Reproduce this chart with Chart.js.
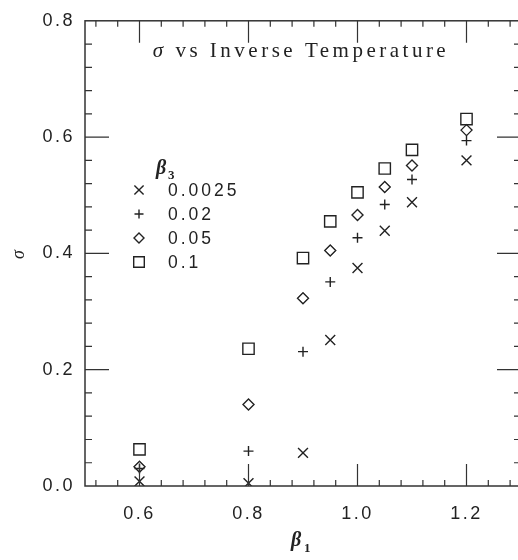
<!DOCTYPE html>
<html lang="en">
<head>
    <meta charset="UTF-8">
    <title>sigma vs inverse temperature</title>
    <script src="https://cdn.jsdelivr.net/npm/chart.js@4.4.1/dist/chart.umd.min.js"></script>
    <style>
        html, body { margin: 0; padding: 0; background: #fff; overflow: hidden; }
        #wrap { width: 518px; height: 560px; overflow: hidden; }
    </style>
</head>
<body>
    <div id="wrap">
        <canvas id="chart" width="540" height="560"></canvas>
    </div>
    <script>
        // beta_1 values where sigma was measured
        const betaValues = [0.6, 0.8, 0.9, 0.95, 1.0, 1.05, 1.1, 1.2];
        // sigma for each beta_3
        const sigma0025 = [0.008, 0.005, 0.057, 0.251, 0.375, 0.439, 0.488, 0.560];
        const sigma02   = [0.030, 0.060, 0.231, 0.351, 0.427, 0.484, 0.527, 0.594];
        const sigma05   = [0.033, 0.140, 0.323, 0.405, 0.466, 0.514, 0.551, 0.612];
        const sigma1    = [0.063, 0.236, 0.392, 0.455, 0.505, 0.546, 0.578, 0.631];

        const seriesLabels = ['0.0025', '0.02', '0.05', '0.1'];
        const xTickValues = [0.6, 0.8, 1.0, 1.2];
        const yTickValues = [0.0, 0.2, 0.4, 0.6, 0.8];

        const ink = '#222';
        const markers = [
            { style: 'crossRot', radius: 7 },
            { style: 'cross', radius: 5 },
            { style: 'rectRot', radius: 5.5 },
            { style: 'rect', radius: 8 }
        ];
        const allSeries = [sigma0025, sigma02, sigma05, sigma1];

        const datasets = allSeries.map((vals, i) => ({
            label: seriesLabels[i],
            data: vals.map((v, j) => ({ x: betaValues[j], y: v })),
            pointStyle: markers[i].style,
            pointRadius: markers[i].radius,
            pointBorderWidth: 1.4,
            pointBorderColor: ink,
            pointBackgroundColor: 'rgba(0,0,0,0)',
            showLine: false
        }));

        // frame, inside ticks, title, legend and x title
        const decorPlugin = {
            id: 'decor',
            beforeDraw(chart) {
                chart.ctx.letterSpacing = '2.5px';
            },
            afterDraw(chart) {
                const ctx = chart.ctx;
                const area = chart.chartArea;
                const xs = chart.scales.x, ys = chart.scales.y;
                ctx.save();
                ctx.strokeStyle = '#333';
                ctx.lineWidth = 1.5;
                ctx.strokeRect(area.left, area.top, area.right - area.left, area.bottom - area.top);

                ctx.lineWidth = 1.2;
                ctx.beginPath();
                // x ticks (bottom and top)
                for (let k = 0; k <= 19; k++) {
                    const v = 0.52 + 0.04 * k;
                    const px = xs.getPixelForValue(v);
                    const major = xTickValues.some(t => Math.abs(t - v) < 1e-6);
                    const len = major ? 22 : 6;
                    ctx.moveTo(px, area.bottom); ctx.lineTo(px, area.bottom - len);
                    ctx.moveTo(px, area.top); ctx.lineTo(px, area.top + len);
                }
                // y ticks (left and right)
                for (let k = 1; k < 20; k++) {
                    const v = 0.04 * k;
                    const py = ys.getPixelForValue(v);
                    const len = (k % 5 === 0) ? 24 : 7;
                    ctx.moveTo(area.left, py); ctx.lineTo(area.left + len, py);
                    ctx.moveTo(area.right, py); ctx.lineTo(area.right - len, py);
                }
                ctx.stroke();

                ctx.fillStyle = ink;
                ctx.textBaseline = 'alphabetic';

                // title
                ctx.letterSpacing = '3.5px';
                ctx.font = 'italic 21px "Liberation Serif"';
                const sig = 'σ';
                const wSig = ctx.measureText(sig).width;
                ctx.font = '21px "Liberation Serif"';
                const rest = ' vs Inverse Temperature';
                const wRest = ctx.measureText(rest).width;
                let tx = 301 - (wSig + wRest) / 2;
                ctx.textAlign = 'left';
                ctx.font = 'italic 21px "Liberation Serif"';
                ctx.fillText(sig, tx, 57);
                ctx.font = '21px "Liberation Serif"';
                ctx.fillText(rest, tx + wSig, 57);

                // legend title beta_3
                ctx.letterSpacing = '0px';
                ctx.font = 'italic bold 20px "Liberation Serif"';
                ctx.fillText('β', 156, 174);
                ctx.font = 'bold 13px "Liberation Serif"';
                ctx.fillText('3', 168, 179);

                // legend rows
                ctx.letterSpacing = '3px';
                ctx.font = '17.5px "Liberation Sans"';
                ctx.textBaseline = 'middle';
                markers.forEach((m, i) => {
                    const y = 190 + i * 24;
                    ctx.strokeStyle = ink;
                    ctx.fillStyle = 'rgba(0,0,0,0)';
                    ctx.lineWidth = 1.4;
                    Chart.helpers.drawPoint(ctx, { pointStyle: m.style, rotation: 0, radius: m.radius - 0.5, borderWidth: 1.4 }, 139, y);
                    ctx.fillStyle = ink;
                    ctx.fillText(seriesLabels[i], 168, y + 1);
                });

                // x title beta_1
                ctx.letterSpacing = '0px';
                ctx.textBaseline = 'alphabetic';
                ctx.font = 'italic bold 20px "Liberation Serif"';
                ctx.fillText('β', 291, 546);
                ctx.font = 'bold 13px "Liberation Serif"';
                ctx.fillText('1', 304, 552);
                ctx.restore();
            }
        };

        new Chart(document.getElementById('chart').getContext('2d'), {
            type: 'scatter',
            data: { datasets: datasets },
            options: {
                responsive: false,
                animation: false,
                events: [],
                layout: { padding: { top: 13, right: 19, left: 0, bottom: 0 } },
                plugins: { legend: { display: false }, tooltip: { enabled: false } },
                scales: {
                    x: {
                        type: 'linear',
                        min: 0.5,
                        max: 1.3,
                        grid: { display: false, drawTicks: false },
                        border: { display: false },
                        afterBuildTicks: s => { s.ticks = xTickValues.map(v => ({ value: v })); },
                        afterFit: s => { s.height = 74; },
                        ticks: {
                            padding: 17,
                            color: ink,
                            font: { family: 'Liberation Sans', size: 18 },
                            callback: v => v.toFixed(1)
                        }
                    },
                    y: {
                        type: 'linear',
                        min: 0,
                        max: 0.8,
                        grid: { display: false, drawTicks: false },
                        border: { display: false },
                        afterBuildTicks: s => { s.ticks = yTickValues.map(v => ({ value: v })); },
                        afterFit: s => { s.width = 85; },
                        ticks: {
                            padding: 10,
                            color: ink,
                            font: { family: 'Liberation Sans', size: 18 },
                            callback: v => v.toFixed(1)
                        },
                        title: {
                            display: true,
                            text: 'σ',
                            color: ink,
                            font: { family: 'Liberation Serif', size: 18, style: 'italic' },
                            padding: { top: 8, bottom: 0 }
                        }
                    }
                }
            },
            plugins: [decorPlugin]
        });
    </script>
</body>
</html>
